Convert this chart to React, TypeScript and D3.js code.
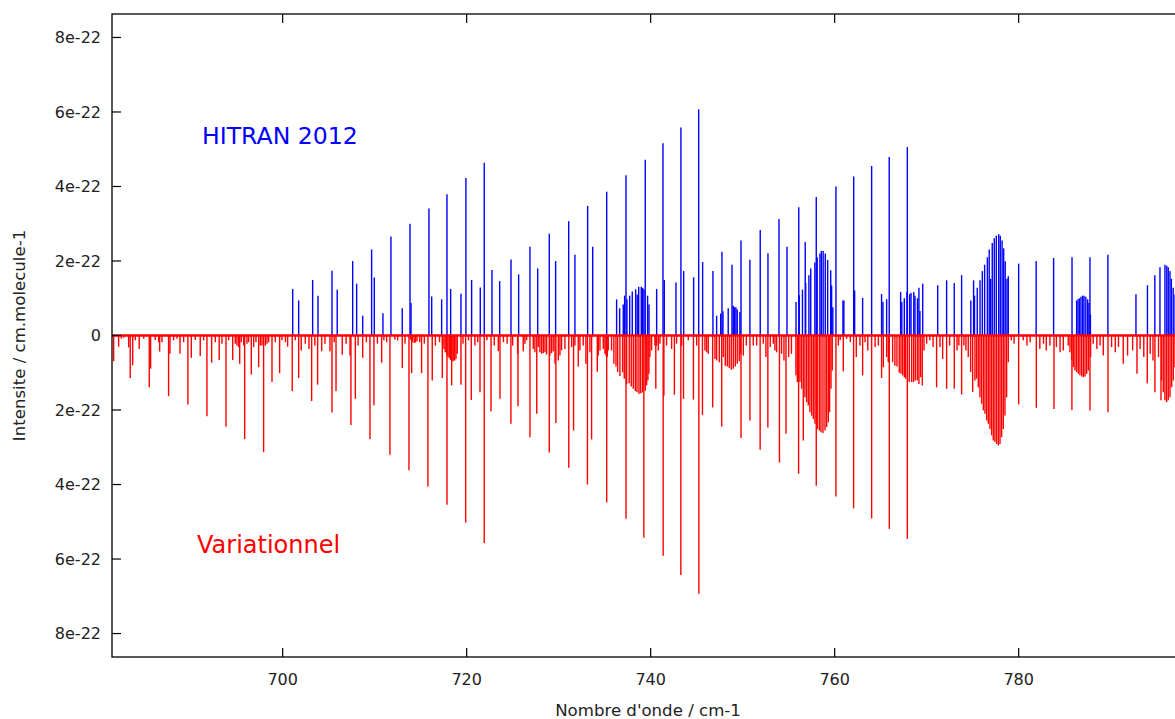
import React from 'react';
import * as d3 from 'd3';

// ---------- data (wavenumber cm-1, intensity in 1e-22 cm/molecule) ----------
const xTicks = [700, 720, 740, 760, 780];
const yTicks = [8, 6, 4, 2, 0, -2, -4, -6, -8];

const hitranLines: [number, number][] = [
  [701.09, 1.25], [701.74, 0.94], [703.26, 1.49], [703.84, 1.07], [705.36, 1.74], [705.93, 1.23],
  [707.61, 2.0], [708.04, 1.39], [708.7, 0.53], [709.67, 2.31], [709.96, 1.56], [710.9, 0.6],
  [711.77, 2.66], [713.0, 0.73], [713.84, 3.0], [713.95, 0.87], [715.9, 3.41], [716.2, 1.05],
  [717.28, 0.97], [717.86, 3.79], [718.26, 1.25], [719.38, 1.12], [719.92, 4.23], [720.54, 1.49],
  [721.48, 1.29], [721.91, 4.64], [722.75, 1.76], [723.59, 1.46], [724.82, 2.04], [725.65, 1.64],
  [726.88, 2.38], [727.72, 1.8], [728.98, 2.73], [729.67, 2.0], [731.09, 3.07], [731.77, 2.17],
  [733.15, 3.48], [733.7, 2.38], [735.22, 3.86],
  [736.3, 0.97], [736.63, 0.73], [737.02, 0.83], [737.17, 1.07], [737.32, 4.3], [737.42, 0.97],
  [737.72, 1.07], [738.0, 1.18], [738.37, 1.24], [738.54, 1.1], [738.7, 1.31], [738.98, 1.31],
  [739.13, 1.28], [739.27, 1.24], [739.41, 4.72], [739.67, 1.07], [739.82, 0.83],
  [740.65, 1.25], [741.34, 5.16], [741.48, 1.49], [742.75, 1.42], [743.29, 5.58], [743.59, 1.73],
  [744.67, 1.56], [745.22, 6.07], [745.65, 1.97], [746.77, 1.73], [747.17, 0.53], [747.61, 0.59],
  [747.75, 2.25], [747.86, 0.65], [748.43, 0.73], [748.84, 1.9], [748.98, 0.8], [749.13, 0.76],
  [749.27, 0.76], [749.41, 0.7], [749.7, 0.63], [749.82, 2.55], [750.79, 2.03], [751.91, 2.83],
  [752.75, 2.21], [753.95, 3.13], [754.82, 2.38],
  [755.8, 0.9], [756.1, 3.44], [756.15, 1.08], [756.5, 1.23], [756.8, 2.51], [756.85, 1.41],
  [757.2, 1.62], [757.4, 1.8], [757.85, 1.96], [758.0, 3.72], [758.1, 2.1], [758.4, 2.2],
  [758.55, 2.27], [758.75, 2.27], [758.98, 2.2], [759.24, 2.03], [759.57, 1.75], [759.67, 1.34],
  [759.8, 0.76], [760.14, 4.0], [760.9, 0.94], [761.0, 0.94], [762.07, 4.27], [762.17, 1.21],
  [763.04, 1.01], [764.02, 4.55], [765.1, 1.11], [765.25, 0.9], [765.65, 0.97], [765.93, 4.79],
  [767.17, 1.17], [767.3, 0.9], [767.57, 1.0], [767.86, 1.17], [767.9, 5.06], [768.15, 1.11],
  [768.3, 1.14], [768.6, 1.17], [768.73, 1.07], [769.0, 1.0], [769.16, 1.28], [769.27, 0.66],
  [769.57, 1.39], [771.2, 1.35], [772.17, 1.48], [773.0, 1.41], [773.8, 1.62],
  [774.8, 0.94], [775.1, 1.48], [775.2, 1.07], [775.5, 1.28], [775.8, 1.48], [776.05, 1.73],
  [776.3, 1.9], [776.6, 2.1], [776.8, 2.31], [776.96, 1.52], [777.13, 2.48], [777.35, 2.61],
  [777.57, 2.68], [777.83, 2.72], [778.0, 2.68], [778.2, 2.55], [778.37, 2.34], [778.54, 1.99],
  [778.73, 1.52], [778.87, 1.59], [780.0, 1.93], [781.9, 2.0], [783.8, 2.08], [785.8, 2.1],
  [786.3, 0.94], [786.45, 0.97], [786.6, 1.0], [786.77, 1.04], [786.95, 1.07], [787.1, 1.07],
  [787.3, 1.04], [787.5, 0.97], [787.64, 0.87], [787.75, 2.1], [787.8, 0.56], [789.7, 2.17],
  [792.75, 1.11], [794.0, 1.35], [794.8, 1.62], [795.36, 1.83], [795.9, 1.9], [796.1, 1.87],
  [796.26, 1.83], [796.45, 1.73], [796.6, 1.52], [796.8, 1.28], [797.0, 1.1],
];

const variStrong: [number, number][] = [
  [681.63, 0.69], [683.43, 1.14], [683.7, 0.8], [685.5, 1.39], [685.65, 0.89], [687.6, 1.63],
  [689.7, 1.85], [690.07, 0.6], [691.77, 2.17], [692.28, 0.73], [693.84, 2.45], [695.87, 2.78],
  [696.59, 1.05], [697.39, 0.85], [697.93, 3.13], [698.84, 1.25], [699.67, 1.01], [701.04, 1.49],
  [701.74, 1.14], [703.15, 1.76], [703.8, 1.32], [705.36, 2.07], [705.8, 1.49], [707.42, 2.4],
  [707.9, 1.7], [709.49, 2.78], [709.92, 1.87], [710.76, 0.73], [711.66, 3.2], [713.0, 0.87],
  [713.73, 3.62], [714.02, 1.01], [715.1, 1.01], [715.79, 4.05], [716.26, 1.21], [717.35, 1.14],
  [717.86, 4.54], [718.37, 1.34], [719.38, 1.32], [719.89, 5.02], [720.5, 1.73], [721.45, 1.52],
  [721.91, 5.57], [722.65, 2.03], [723.62, 1.7], [724.81, 2.37], [725.58, 1.9], [726.88, 2.73],
  [727.62, 2.1], [728.98, 3.14], [729.7, 2.35], [731.1, 3.55], [731.62, 2.55], [732.13, 0.83],
  [732.96, 0.76], [733.13, 4.0], [733.58, 2.79], [734.2, 0.97], [735.22, 4.48], [737.32, 4.92],
  [739.26, 5.43], [740.56, 1.43], [741.36, 5.91], [741.44, 1.61], [742.58, 1.59], [743.28, 6.43],
  [743.57, 1.7], [744.65, 1.72], [745.24, 6.93], [745.63, 2.13], [746.74, 1.93], [747.72, 2.44],
  [749.82, 2.75], [750.79, 2.28], [751.9, 3.07], [752.74, 2.47], [754.0, 3.41], [754.71, 2.64],
  [756.08, 3.71], [756.59, 2.82], [758.0, 4.03], [760.14, 4.32], [760.94, 0.96], [762.06, 4.64],
  [762.35, 0.58], [763.04, 1.07], [764.02, 4.91], [765.94, 5.19], [767.9, 5.46], [771.08, 1.39],
  [771.74, 0.63], [772.17, 1.43], [773.0, 1.43], [773.8, 1.58], [780.0, 1.85], [781.92, 1.94],
  [783.84, 1.97], [785.79, 2.0], [787.75, 2.01], [789.71, 2.06], [791.37, 0.76], [791.84, 0.54],
  [792.86, 1.03], [793.98, 1.28], [794.81, 1.52], [795.47, 1.74],
];

const variBands: [number, number][] = [
  [694.85, 0.22], [695.03, 0.27], [695.21, 0.31], [695.5, 0.18], [695.76, 0.27], [696.12, 0.22],
  [696.3, 0.18], [696.85, 0.31], [697.1, 0.18], [697.57, 0.27], [697.75, 0.27], [698.12, 0.27],
  [698.3, 0.22], [698.48, 0.18],
  [713.9, 0.11], [714.1, 0.18], [714.3, 0.2], [714.45, 0.19], [714.6, 0.15],
  [717.39, 0.22], [717.53, 0.36], [717.67, 0.45], [717.83, 0.51], [717.97, 0.57], [718.11, 0.61],
  [718.26, 0.66], [718.4, 0.69], [718.54, 0.69], [718.7, 0.67], [718.84, 0.63], [718.98, 0.49],
  [727.24, 0.36], [727.42, 0.45], [727.78, 0.31], [727.96, 0.45], [728.15, 0.49], [728.33, 0.47],
  [728.51, 0.45], [728.69, 0.51], [729.05, 0.54], [729.23, 0.47], [729.41, 0.42], [729.6, 0.76],
  [729.96, 0.67], [730.14, 0.54], [730.32, 0.4],
  [734.31, 0.54], [734.49, 0.4], [734.85, 0.36], [735.03, 0.49], [735.14, 0.54], [735.28, 0.58],
  [735.39, 0.4], [735.75, 0.4],
  [736.0, 0.76], [736.23, 0.83], [736.41, 0.98], [736.66, 1.09], [736.95, 0.99], [737.13, 1.16],
  [737.39, 1.3], [737.67, 1.28], [737.89, 1.37], [738.11, 1.43], [738.33, 1.49], [738.51, 1.52],
  [738.73, 1.57], [738.91, 1.55], [739.12, 1.53], [739.41, 1.48], [739.56, 1.34], [739.7, 1.21],
  [739.81, 1.03], [739.92, 0.58], [740.1, 0.4],
  [746.99, 0.63], [747.17, 0.67], [747.46, 0.72], [747.89, 0.58], [748.11, 0.81], [748.33, 0.83],
  [748.54, 0.87], [748.76, 0.92], [748.98, 0.89], [749.2, 0.83], [749.41, 0.76], [749.63, 0.69],
  [749.78, 0.49],
  [755.79, 1.07], [755.94, 1.25], [756.23, 1.25], [756.41, 1.43], [756.77, 1.66], [756.95, 1.79],
  [757.13, 1.88], [757.31, 2.06], [757.5, 2.15], [757.68, 2.24], [757.86, 2.37], [758.11, 2.51],
  [758.33, 2.55], [758.51, 2.6], [758.73, 2.62], [758.95, 2.55], [759.13, 2.46], [759.31, 2.33],
  [759.45, 2.06], [759.6, 1.43], [759.74, 0.94],
  [765.1, 1.14], [765.29, 0.85], [765.65, 0.58], [765.83, 0.72], [766.3, 0.72], [766.55, 0.81],
  [766.77, 0.83], [767.02, 1.0], [767.21, 1.03], [767.39, 1.07], [767.57, 1.12], [767.71, 1.16],
  [768.11, 1.25], [768.37, 1.25], [768.58, 1.25], [768.76, 1.21], [768.98, 1.21], [769.16, 1.3],
  [769.34, 1.12], [769.52, 1.34], [769.71, 0.4],
  [774.05, 0.27], [774.27, 0.4], [774.52, 0.58], [774.78, 0.98], [775.0, 1.52], [775.25, 1.21],
  [775.43, 1.16], [775.61, 1.39], [775.79, 1.66], [775.97, 1.83], [776.16, 2.01], [776.34, 2.1],
  [776.52, 2.28], [776.7, 2.37], [776.88, 2.51], [777.06, 2.68], [777.24, 2.82], [777.42, 2.86],
  [777.6, 2.91], [777.79, 2.95], [777.97, 2.91], [778.15, 2.73], [778.33, 2.51], [778.51, 2.15],
  [778.69, 1.66], [778.87, 0.72],
  [785.39, 0.27], [785.58, 0.45], [785.76, 0.67], [785.94, 0.85], [786.12, 0.94], [786.3, 0.98],
  [786.48, 1.03], [786.66, 1.07], [786.85, 1.1], [787.03, 1.12], [787.21, 1.1], [787.39, 1.03],
  [787.57, 0.94], [787.82, 0.58],
  [795.54, 1.21], [795.72, 1.52], [795.9, 1.74], [796.08, 1.79], [796.26, 1.74], [796.45, 1.66],
  [796.63, 1.39], [796.81, 1.21], [796.99, 0.85],
];

const variWeak: [number, number][] = [
  [682.17, 0.3], [682.46, 0.09], [682.72, 0.06], [683.26, 0.32], [683.98, 0.13], [684.41, 0.36],
  [684.9, 0.09], [686.15, 0.12], [686.52, 0.18], [686.63, 0.43], [686.88, 0.18], [687.75, 0.49],
  [688.15, 0.13], [688.52, 0.09], [688.84, 0.49], [689.24, 0.18], [690.5, 0.12], [691.04, 0.55],
  [691.41, 0.13], [692.68, 0.18], [693.1, 0.66], [693.4, 0.22], [694.13, 0.13], [694.57, 0.66],
  [695.33, 0.76], [699.2, 0.18], [699.93, 0.13], [700.3, 0.18], [700.54, 0.3], [701.37, 0.13],
  [702.02, 0.4], [702.46, 0.22], [702.86, 0.36], [703.5, 0.27], [704.24, 0.42], [704.6, 0.22],
  [705.14, 0.42], [705.6, 0.18], [706.48, 0.52], [706.9, 0.22], [707.32, 0.54], [708.2, 0.27],
  [708.7, 0.6], [709.1, 0.18], [710.3, 0.22], [711.0, 0.13], [711.3, 0.18], [712.2, 0.11],
  [712.5, 0.13], [713.3, 0.22], [714.9, 0.18], [715.4, 0.22], [716.6, 0.27], [717.05, 0.18],
  [719.6, 0.22], [720.2, 0.13], [720.9, 0.27], [721.2, 0.18], [722.2, 0.13], [723.0, 0.27],
  [723.44, 0.42], [724.0, 0.18], [724.4, 0.22], [725.0, 0.27], [725.54, 0.49], [726.15, 0.42],
  [726.33, 0.22], [726.52, 0.13], [730.68, 0.36], [731.41, 0.31], [731.77, 0.27], [732.31, 0.4],
  [732.67, 0.27], [733.4, 0.45], [740.46, 0.27], [740.65, 0.27], [740.83, 0.4], [741.01, 0.22],
  [741.73, 0.27], [742.28, 0.36], [742.82, 0.22], [743.36, 0.27], [744.09, 0.13], [745.0, 0.27],
  [745.9, 0.4], [746.08, 0.45], [746.26, 0.49], [750.07, 0.54], [750.4, 0.27], [751.15, 0.27],
  [751.52, 0.27], [752.24, 0.22], [752.53, 0.58], [753.0, 0.31], [753.33, 0.22], [753.51, 0.4],
  [753.69, 0.45], [754.23, 0.49], [754.49, 0.67], [755.0, 0.58], [755.3, 0.49], [760.4, 0.27],
  [760.6, 0.13], [761.3, 0.09], [761.7, 0.18], [762.75, 0.27], [763.3, 0.18], [763.6, 0.4],
  [764.4, 0.31], [764.75, 0.27], [770.0, 0.22], [770.35, 0.13], [770.7, 0.31], [771.45, 0.31],
  [772.5, 0.27], [773.3, 0.4], [773.5, 0.27], [779.2, 0.13], [779.5, 0.22], [780.5, 0.13],
  [780.9, 0.27], [781.25, 0.18], [782.3, 0.36], [782.7, 0.22], [783.0, 0.4], [783.4, 0.27],
  [784.1, 0.31], [784.5, 0.45], [784.85, 0.4], [788.1, 0.22], [788.5, 0.36], [788.85, 0.27],
  [789.2, 0.54], [790.1, 0.31], [790.5, 0.45], [790.85, 0.31], [792.39, 0.4], [793.2, 0.36],
  [793.6, 0.58], [794.3, 0.49], [794.6, 0.67], [795.2, 0.58],
];

// ---------- layout ----------
const W = 1175;
const H = 719;
const LEFT = 112;
const TOP = 14;
const BOTTOM = 657;
const PX_PER_CM = 9.2;
const X_MIN = 681.45;
const X_MAX = 800;
const Y_LIM = 8.63;
const FONT = "'DejaVu Sans', sans-serif";

export default function App() {
  const x = d3.scaleLinear().domain([X_MIN, X_MAX]).range([LEFT, LEFT + (X_MAX - X_MIN) * PX_PER_CM]);
  const y = d3.scaleLinear().domain([-Y_LIM, Y_LIM]).range([BOTTOM, TOP]);
  const right = x(X_MAX);
  const y0 = y(0);
  const red = [...variWeak, ...variBands, ...variStrong];

  return (
    <svg
      width={W}
      height={H}
      style={{ position: 'absolute', left: 0, top: 0, display: 'block', background: '#fff' }}
    >
      <defs>
        <clipPath id="plot">
          <rect x={LEFT} y={TOP} width={right - LEFT} height={BOTTOM - TOP} />
        </clipPath>
      </defs>
      <g clipPath="url(#plot)">
        {hitranLines.map(([w, v], i) => (
          <line key={'b' + i} x1={x(w)} x2={x(w)} y1={y0} y2={y(v)} stroke="#0000ff" strokeWidth={1.4} />
        ))}
        {red.map(([w, v], i) => (
          <line key={'r' + i} x1={x(w)} x2={x(w)} y1={y0} y2={y(-v)} stroke="#ff0000" strokeWidth={1.4} />
        ))}
        <line x1={LEFT} x2={right} y1={y0} y2={y0} stroke="#ff0000" strokeWidth={2.5} />
      </g>

      {/* border */}
      <rect x={LEFT} y={TOP} width={right - LEFT} height={BOTTOM - TOP} fill="none" stroke="#000" strokeWidth={1.3} />

      {/* y ticks */}
      {yTicks.map((t) => (
        <g key={'yt' + t}>
          <line x1={LEFT} x2={LEFT + 9} y1={y(t)} y2={y(t)} stroke="#000" strokeWidth={1.2} />
          <line x1={right} x2={right - 9} y1={y(t)} y2={y(t)} stroke="#000" strokeWidth={1.2} />
          <text x={LEFT - 11} y={y(t)} dy="0.35em" textAnchor="end" fontFamily={FONT} fontSize={16} fill="#222">
            {t === 0 ? '0' : `${Math.abs(t)}e-22`}
          </text>
        </g>
      ))}

      {/* x ticks */}
      {xTicks.map((t) => (
        <g key={'xt' + t}>
          <line x1={x(t)} x2={x(t)} y1={BOTTOM} y2={BOTTOM - 9} stroke="#000" strokeWidth={1.2} />
          <line x1={x(t)} x2={x(t)} y1={TOP} y2={TOP + 9} stroke="#000" strokeWidth={1.2} />
          <text x={x(t)} y={BOTTOM + 28} textAnchor="middle" fontFamily={FONT} fontSize={16} fill="#222">
            {t}
          </text>
        </g>
      ))}

      {/* axis titles */}
      <text x={648} y={716} textAnchor="middle" fontFamily={FONT} fontSize={16.6} fill="#222">
        Nombre d'onde / cm-1
      </text>
      <text
        transform={`translate(25, ${y0}) rotate(-90)`}
        textAnchor="middle"
        fontFamily={FONT}
        fontSize={16.6}
        fill="#222"
      >
        Intensite / cm.molecule-1
      </text>

      {/* series labels */}
      <text x={202} y={144} fontFamily={FONT} fontSize={23.6} fill="#0000ff">
        HITRAN 2012
      </text>
      <text x={197} y={553} fontFamily={FONT} fontSize={24} fill="#ff0000">
        Variationnel
      </text>
    </svg>
  );
}
